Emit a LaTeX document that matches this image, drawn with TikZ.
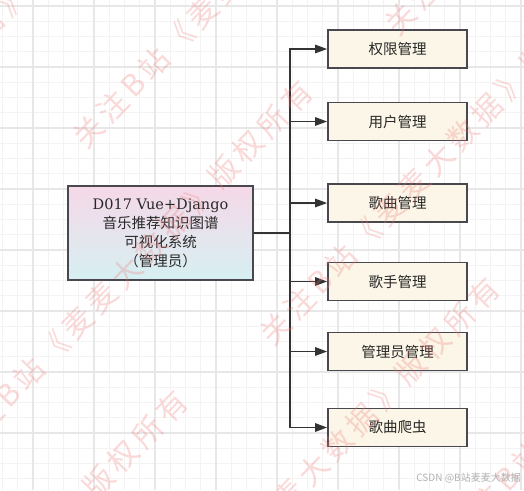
\documentclass[tikz,border=0pt]{standalone}
\usepackage{fontspec}
\setmainfont{DejaVu Serif}
\newfontfamily\cjk{Noto Sans CJK SC}
\usetikzlibrary{arrows.meta}
\definecolor{boxfill}{RGB}{251,246,231}
\definecolor{boxdraw}{RGB}{72,72,78}
\definecolor{topc}{RGB}{246,216,232}
\definecolor{botc}{RGB}{214,240,242}
\definecolor{wm}{RGB}{240,120,120}
\definecolor{gmin}{RGB}{243,243,243}
\definecolor{gmaj}{RGB}{231,231,231}
\definecolor{txt}{RGB}{40,40,40}
\newcommand\wk{\kern5pt}
\newcommand\wmtext{关\wk 注\wk B\wk 站\wk 《\wk 麦\wk 麦\wk 大\wk 数\wk 据\wk 》\wk 版\wk 权\wk 所\wk 有}
\begin{document}
\begin{tikzpicture}[x=1pt,y=-1pt,
  leaf/.style={draw=boxdraw, line width=1.8pt, fill=boxfill, minimum width=139pt, minimum height=38pt, inner sep=0pt, font=\cjk\fontsize{14.5}{18}\selectfont, text=txt},
  root/.style={draw=boxdraw, line width=1.8pt, top color=topc, bottom color=botc, minimum width=185pt, minimum height=94pt, inner sep=0pt, align=center, font=\fontsize{14.5}{19}\selectfont, text=txt},
  link/.style={draw=black!80, line width=1.4pt, -{Triangle[length=12pt,width=8.5pt]}},
  wmark/.style={text=wm, opacity=0.28, rotate=46, font=\cjk\fontsize{30}{30}\selectfont, inner sep=0pt},
  gridmin/.style={draw=gmin, line width=0.9pt},
  gridmaj/.style={draw=gmaj, line width=1.1pt}
]
\useasboundingbox (0,0) rectangle (524,490);
\fill[white] (0,0) rectangle (524,490);
% grid
\foreach \k in {-2,...,32} {
  \draw[gridmin] ({33+\k*15.25},0) -- ({33+\k*15.25},490);
}
\foreach \k in {-4,...,28} {
  \draw[gridmin] (0,{67+\k*15.25}) -- (524,{67+\k*15.25});
}
\foreach \m in {0,...,8} {
  \draw[gridmaj] ({33+\m*61},0) -- ({33+\m*61},490);
  \draw[gridmaj] (0,{6+\m*61}) -- (524,{6+\m*61});
}
% nodes
\node[root] (L) at (160.5,233) {D017 Vue+Django\\{\cjk 音乐推荐知识图谱}\\{\cjk 可视化系统}\\{\cjk （管理员）}};
\node[leaf] (R1) at (397.5,49) {权限管理};
\node[leaf] (R2) at (397.5,121.5) {用户管理};
\node[leaf] (R3) at (397.5,203) {歌曲管理};
\node[leaf] (R4) at (397.5,281.5) {歌手管理};
\node[leaf] (R5) at (397.5,351.5) {管理员管理};
\node[leaf] (R6) at (397.5,427.5) {歌曲爬虫};
\coordinate (T) at (290,0);
\foreach \r in {R1,R2,R3,R4,R5,R6} {
  \draw[link] (L.east) -- (L.east -| T) |- (\r.west);
}
% watermark
\begin{scope}
\clip (0,0) rectangle (524,490);
\foreach \i in {-2,...,2} {
  \foreach \j in {-1,...,3} {
    \pgfmathsetmacro\px{223-125*\i+187*\j-93}
    \pgfmathsetmacro\py{173+310*\i+197*\j+96}
    \node[wmark] (wm\i\j) at (\px,\py) {\wmtext};
  }
}
\end{scope}
\node[anchor=east, text=gray!60, font=\cjk\fontsize{10}{10}\selectfont, inner sep=0pt] (csdn) at (521,478) {CSDN @B站麦麦大数据};
\end{tikzpicture}
\end{document}
